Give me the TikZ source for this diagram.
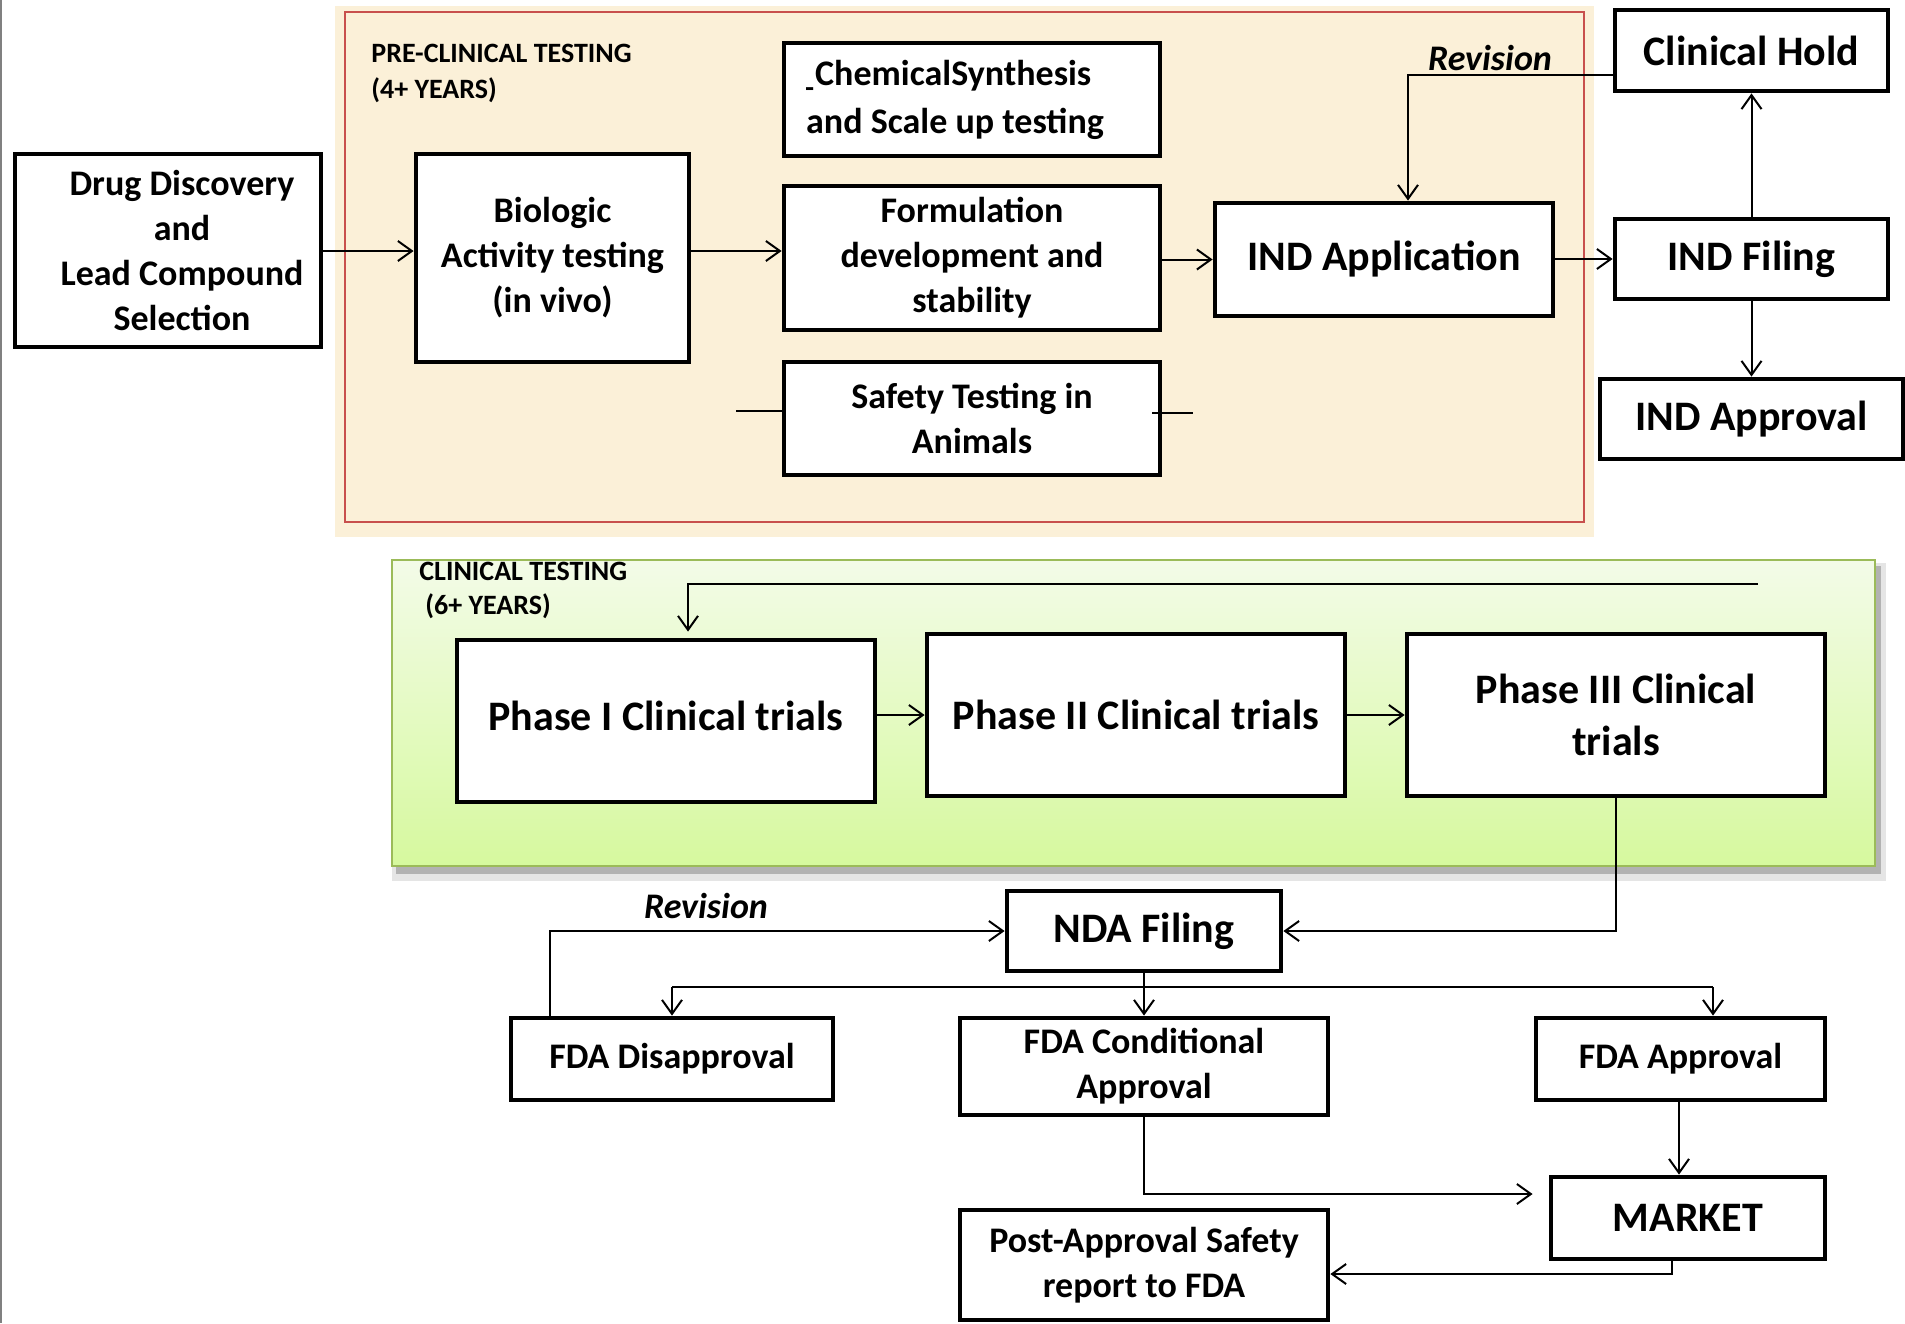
\documentclass[tikz,border=0pt]{standalone}
\usepackage{fontspec}
\usepackage{graphicx}
\setmainfont{Carlito}
\usetikzlibrary{arrows.meta,calc}
\definecolor{beige}{RGB}{251,240,216}
\definecolor{redb}{RGB}{200,80,77}
\definecolor{greenb}{RGB}{155,187,89}
\definecolor{gtop}{RGB}{243,251,232}
\definecolor{gbot}{RGB}{214,249,158}
\begin{document}
\begin{tikzpicture}[x=0.5pt,y=-0.5pt,
  box/.style={draw=black, line width=2.4pt, fill=white, inner sep=0pt, align=center,
    font=\bfseries\fontsize{18}{22.5}\selectfont},
  bigbox/.style={box, font=\bfseries\fontsize{21}{26}\selectfont},
  conn/.style={line width=1pt},
  arr/.style={conn, -{Straight Barb[length=7pt,width=10pt]}},
  lbl/.style={font=\bfseries\fontsize{14}{18}\selectfont, align=left, inner sep=0pt, anchor=north west},
  rev/.style={font=\bfseries\itshape\fontsize{18}{22}\selectfont, inner sep=0pt}
]
\useasboundingbox (0,0) rectangle (1905,1323);
\fill[white] (0,0) rectangle (1905,1323);
\draw[gray, line width=1pt] (1,0) -- (1,1323);

% pre-clinical area
\fill[beige] (335,6) rectangle (1594,537);
\draw[redb, line width=1.2pt] (345,12) rectangle (1584,522);
\node[lbl] (prelbl) at (371,44) {PRE-CLINICAL TESTING\\(4+ YEARS)};

% clinical area
\fill[black!10] (392,563) rectangle (1886,881);
\fill[black!30] (396,566) rectangle (1881,874);
\shade[top color=gtop, bottom color=gbot] (392,560) rectangle (1875,866);
\draw[greenb, line width=1.2pt] (392,560) rectangle (1875,866);
\node[lbl, font=\bfseries\fontsize{14}{17}\selectfont] (clinlbl) at (419,562) {CLINICAL TESTING\\\hspace*{3pt}(6+ YEARS)};

% boxes top
\node[box, minimum width=153pt, minimum height=96.5pt] (drug) at (168,250.5)
  {\hspace*{14pt}Drug Discovery\\\hspace*{14pt}and\\\hspace*{14pt}Lead Compound\\\hspace*{14pt}Selection};
\node[box, minimum width=136.5pt, minimum height=104pt] (bio) at (552.5,258)
  {Biologic\\Activity testing\\(in vivo)};
\node[box, minimum width=188pt, minimum height=56.5pt, align=left,
  font=\bfseries\fontsize{18}{24}\selectfont] (chem) at (972,99.5)
  {\scalebox{0.4}[1]{\_}\kern0.05em ChemicalSynthesis\\and Scale up testing\hspace*{17pt}};
\node[box, minimum width=188pt, minimum height=72pt] (form) at (972,258)
  {Formulation\\development and\\stability};
\node[box, minimum width=188pt, minimum height=56.5pt] (safety) at (972,418.5)
  {Safety Testing in\\Animals};
\node[bigbox, minimum width=169pt, minimum height=56.5pt] (indapp) at (1384,259.5) {IND Application};
\node[bigbox, minimum width=136.5pt, minimum height=40.5pt] (hold) at (1751.5,50.5) {Clinical Hold};
\node[bigbox, minimum width=136.5pt, minimum height=40pt] (filing) at (1751.5,259) {IND Filing};
\node[bigbox, minimum width=151.5pt, minimum height=40pt] (indappr) at (1751.5,419) {IND Approval};

% clinical boxes
\node[bigbox, minimum width=209pt, minimum height=81pt] (phase1) at (666,721) {\raisebox{5pt}{Phase I Clinical trials}};
\node[bigbox, minimum width=209pt, minimum height=81pt] (phase2) at (1136,715) {Phase II Clinical trials};
\node[bigbox, minimum width=209pt, minimum height=81pt] (phase3) at (1616,715) {Phase III Clinical\\trials};

% bottom boxes
\node[bigbox, minimum width=137pt, minimum height=40pt] (nda) at (1144,931) {NDA Filing};
\node[box, minimum width=161pt, minimum height=41pt] (disap) at (672,1059) {FDA Disapproval};
\node[box, minimum width=184pt, minimum height=48.5pt] (cond) at (1144,1066.5) {FDA Conditional\\Approval};
\node[box, minimum width=144.5pt, minimum height=41pt] (appr) at (1680.5,1059) {FDA Approval};
\node[bigbox, minimum width=137pt, minimum height=41pt] (market) at (1688,1218) {MARKET};
\node[box, minimum width=184pt, minimum height=55pt] (post) at (1144,1265) {Post-Approval Safety\\report to FDA};

% revision labels
\node[rev] (rev1) at (1490,58) {Revision};
\node[rev] (rev2) at (706,906) {Revision};

% coordinates
\coordinate (y1) at (0,251);
\coordinate (rv) at (1408,75);
\coordinate (s1) at (736,411);
\coordinate (s2a) at (1152,413);
\coordinate (s2) at (1193,413);
\coordinate (fb1) at (1758,584);
\coordinate (fb2) at (688,584);
\coordinate (rv2) at (550,931);
\coordinate (bl) at (672,987);
\coordinate (brr) at (1713,987);
\coordinate (cm) at (1144,1194);
\coordinate (mp) at (1672,1274);
\coordinate (am) at (1679,0);

% top connectors
\draw[arr] (drug.east |- y1) -- (bio.west |- y1);
\draw[arr] (bio.east |- y1) -- (form.west |- y1);
\draw[arr] (form.east |- indapp.west) -- (indapp.west);
\draw[arr] (indapp.east |- filing.west) -- (filing.west);
\draw[arr] (filing.north) -- (hold.south);
\draw[arr] (filing.south) -- (indappr.north);
\draw[arr] (hold.west |- rv) -- (rv) -- (rv |- indapp.north);
\draw[conn] (s1) -- (s1 -| safety.west);
\draw[conn] (s2a) -- (s2);

% clinical connectors
\draw[arr, shorten >=3pt] (fb1) -- (fb2) -- (fb2 |- phase1.north);
\draw[arr] (phase1.east |- phase2.west) -- (phase2.west);
\draw[arr] (phase2.east) -- (phase3.west);
\draw[arr] (phase3.south) -- (phase3.south |- nda.east) -- (nda.east);

% bottom connectors
\draw[arr] (rv2 |- disap.north) -- (rv2) -- (nda.west);
\draw[conn] (bl) -- (brr);
\draw[arr] (bl) -- (bl |- disap.north);
\draw[arr] (nda.south) -- (cond.north);
\draw[arr] (brr) -- (brr |- appr.north);
\draw[arr, shorten >=8pt] (cond.south) -- (cm) -- (cm -| market.west);
\draw[arr] (am |- appr.south) -- (am |- market.north);
\draw[arr] (mp |- market.south) -- (mp) -- (mp -| post.east);
\end{tikzpicture}
\end{document}
